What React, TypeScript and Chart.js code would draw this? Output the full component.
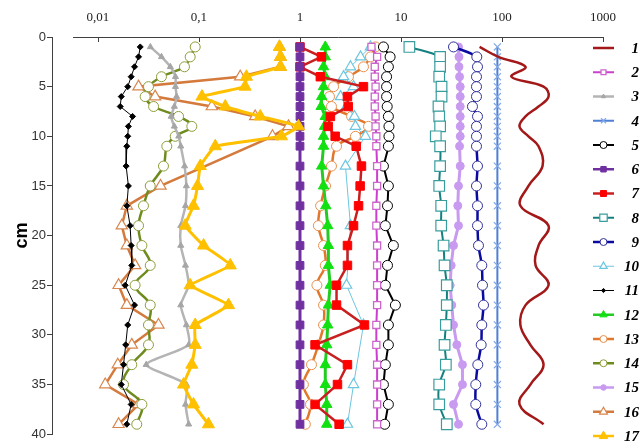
import React, { useEffect, useRef } from "react";
import { Chart, registerables } from "chart.js";
import { drawPoint } from "chart.js/helpers";

Chart.register(...registerables);

// depth (cm) levels
const depths = [1, 2, 3, 4, 5, 6, 7, 8, 9, 10, 11, 13, 15, 17, 19, 21, 23, 25, 27, 29, 31, 33, 35, 37, 39];
const depths10 = [1, 2, 3, 4, 5, 6, 7, 8, 9, 10, 13, 19, 25, 29, 35, 39];
const depths16 = [1, 2, 3, 4, 5, 6, 7, 8, 9, 10, 15, 17, 19, 21, 23, 25, 27, 29, 31, 33, 35, 37, 39];

const xTickValues = [0.01, 0.1, 1, 10, 100, 1000];
const yTickValues = [0, 5, 10, 15, 20, 25, 30, 35, 40];
const legendLabels = ["1", "2", "3", "4", "5", "6", "7", "8", "9", "10", "11", "12", "13", "14", "15", "16", "17"];

const s1 = [60, 92, 171, 124, 258, 289, 230, 171, 149, 183, 230, 252, 183, 152, 289, 230, 215, 289, 171, 152, 191, 258, 191, 149, 258];
const s2 = [5.1, 5.8, 5.5, 5.5, 5.6, 5.5, 5.5, 5.6, 5.6, 5.7, 5.7, 5.8, 5.8, 5.7, 5.7, 5.8, 5.8, 5.8, 5.8, 5.7, 5.7, 5.8, 5.8, 5.8, 5.8];
const s3 = [0.033, 0.0425, 0.052, 0.0585, 0.0585, 0.06, 0.057, 0.053, 0.057, 0.063, 0.066, 0.072, 0.075, 0.0735, 0.066, 0.066, 0.0735, 0.079, 0.066, 0.075, 0.079, 0.03, 0.075, 0.0735, 0.079];
const s4 = [90, 90, 90, 90, 90, 90, 90, 90, 90, 90, 90, 90, 90, 90, 90, 90, 90, 90, 90, 90, 90, 90, 90, 90, 90];
const s5 = [6.7, 7.8, 7.5, 7.2, 7.2, 7.2, 7.3, 7.5, 7.6, 7.6, 7.5, 6.7, 7.5, 7.35, 7.0, 8.4, 7.35, 7.0, 8.8, 7.5, 7.5, 7.0, 6.7, 7.5, 6.9];
const s6 = [1, 1, 1, 1, 1, 1, 1, 1, 1, 1, 1, 1, 1, 1, 1, 1, 1, 1, 1, 1, 1, 1, 1, 1, 1];
const s7 = [1.0, 1.63, 1.0, 1.59, 4.25, 2.95, 3.0, 2.0, 1.9, 2.23, 3.6, 4.06, 3.94, 3.8, 3.39, 2.95, 2.95, 2.3, 2.3, 4.35, 1.41, 2.95, 2.35, 1.41, 2.44];
const s8 = [12.1, 24.4, 24.4, 23.9, 25.2, 25.2, 23.5, 23.9, 24.4, 22.1, 24.4, 24.4, 23.9, 25.0, 25.0, 26.4, 27.0, 28.4, 28.4, 27.8, 27.0, 27.8, 23.9, 23.9, 28.4];
const s9 = [33.1, 56.3, 57.2, 55.9, 55.9, 55.9, 51.0, 57.2, 55.9, 55.9, 55.9, 57.2, 55.9, 57.2, 57.2, 58.5, 63.1, 64.1, 65.6, 63.1, 62.2, 57.6, 55.0, 55.0, 63.1];
const s10 = [4.99, 3.97, 3.16, 2.7, 3.39, 2.52, 2.89, 3.46, 3.54, 4.45, 2.82, 3.16, 2.89, 4.25, 3.39, 2.95];
const s11 = [0.0262, 0.0252, 0.023, 0.0213, 0.0197, 0.017, 0.0166, 0.022, 0.02, 0.0197, 0.0193, 0.019, 0.02, 0.0193, 0.0208, 0.0213, 0.0216, 0.0186, 0.023, 0.0197, 0.0188, 0.0179, 0.017, 0.0213, 0.0193];
const s12 = [1.78, 1.78, 1.71, 1.78, 1.71, 1.64, 1.62, 1.78, 1.75, 1.71, 1.71, 1.64, 1.71, 1.8, 1.88, 1.91, 1.91, 1.99, 1.91, 1.88, 1.84, 1.78, 1.78, 1.84, 1.84];
const s13 = [5.59, 4.99, 4.25, 3.02, 2.15, 1.96, 2.05, 3.24, 4.77, 3.54, 2.3, 2.05, 1.79, 1.6, 1.52, 1.71, 1.78, 1.47, 1.71, 1.71, 1.52, 1.3, 1.08, 1.27, 1.13];
const s14 = [0.0917, 0.0818, 0.0718, 0.0425, 0.0316, 0.0293, 0.0355, 0.0627, 0.0849, 0.0581, 0.048, 0.0445, 0.0329, 0.0282, 0.0252, 0.0272, 0.0329, 0.0233, 0.0329, 0.0316, 0.0316, 0.0216, 0.0179, 0.0272, 0.0242];
const s15 = [37.1, 37.5, 37.5, 38, 38.6, 38.6, 38.6, 38.6, 38.6, 38.6, 38, 38.6, 37.1, 36.5, 37.1, 33.1, 31.4, 30.7, 31.8, 33.1, 35.7, 40.6, 40.6, 33.1, 37.1];
const s16 = [0.627, 0.641, 0.641, 0.256, 0.0252, 0.0368, 0.134, 0.36, 0.769, 0.534, 0.0416, 0.0193, 0.0172, 0.0193, 0.0233, 0.016, 0.0193, 0.0397, 0.0216, 0.0157, 0.0118, 0.0252, 0.016];
const s17 = [0.627, 0.641, 0.641, 0.295, 0.286, 0.107, 0.182, 0.404, 0.966, 0.656, 0.145, 0.103, 0.0967, 0.0882, 0.073, 0.111, 0.204, 0.0818, 0.196, 0.0917, 0.0917, 0.0849, 0.0703, 0.0882, 0.124];

const axisStart = 0.00566;

type Style = {
  line: string; point: string; fill: string; style: any; r: number; lw: number; tension: number; pbw: number; order: number;
};

const styles: Style[] = [
  { line: "#a31818", point: "#a31818", fill: "#a31818", style: "circle", r: 0, lw: 2.5, tension: 0.4, pbw: 1, order: 0 },
  { line: "#cc3fcc", point: "#cc66cc", fill: "#ffffff", style: "rect", r: 5, lw: 2, tension: 0, pbw: 1.3, order: 0 },
  { line: "#b4b4b4", point: "#a6a6a6", fill: "#a6a6a6", style: "triangle", r: 3.5, lw: 2.5, tension: 0.2, pbw: 1, order: 0 },
  { line: "#4f7fd6", point: "#80a8e6", fill: "#80a8e6", style: "crossRot", r: 5, lw: 2, tension: 0, pbw: 1.2, order: 0 },
  { line: "#000000", point: "#000000", fill: "#ffffff", style: "circle", r: 5, lw: 2, tension: 0, pbw: 1, order: 0 },
  { line: "#7030a0", point: "#7030a0", fill: "#7030a0", style: "rect", r: 5.5, lw: 3, tension: 0, pbw: 1, order: 0 },
  { line: "#c82020", point: "#ff0000", fill: "#ff0000", style: "rect", r: 6, lw: 2.5, tension: 0, pbw: 1, order: 0 },
  { line: "#168080", point: "#3a9d9d", fill: "#ffffff", style: "rect", r: 7.5, lw: 2, tension: 0.3, pbw: 1.2, order: 0 },
  { line: "#0a0aa0", point: "#30309a", fill: "#ffffff", style: "circle", r: 5, lw: 2.5, tension: 0.3, pbw: 1, order: 0 },
  { line: "#6cc6e0", point: "#6cc6e0", fill: "#ffffff", style: "triangle", r: 6, lw: 1, tension: 0, pbw: 1.2, order: 0 },
  { line: "#000000", point: "#000000", fill: "#000000", style: "rectRot", r: 3, lw: 1, tension: 0, pbw: 1, order: 0 },
  { line: "#22cc22", point: "#11e011", fill: "#11e011", style: "triangle", r: 6, lw: 3, tension: 0, pbw: 1, order: 0 },
  { line: "#e2772b", point: "#e89050", fill: "#ffffff", style: "circle", r: 5, lw: 2.5, tension: 0.4, pbw: 1, order: 0 },
  { line: "#6e8b1e", point: "#8d9d3a", fill: "#ffffff", style: "circle", r: 5, lw: 2.5, tension: 0.4, pbw: 1, order: 0 },
  { line: "#c89af0", point: "#c89af0", fill: "#c89af0", style: "circle", r: 4, lw: 3, tension: 0, pbw: 1, order: 0 },
  { line: "#d47a3c", point: "#d8864e", fill: "#ffffff", style: "triangle", r: 6.5, lw: 2.5, tension: 0, pbw: 1.2, order: 1 },
  { line: "#ffc000", point: "#ffc000", fill: "#ffc000", style: "triangle", r: 7, lw: 3, tension: 0.1, pbw: 1, order: -1 },
];

const seriesValues = [s1, s2, s3, s4, s5, s6, s7, s8, s9, s10, s11, s12, s13, s14, s15, s16, s17];
const seriesDepths = [depths, depths, depths, depths, depths, depths, depths, depths, depths, depths10, depths, depths, depths, depths, depths, depths16, depths];

const fmt = (v: number) => String(v).replace(".", ",");

const overlayPlugin = {
  id: "overlay",
  afterDraw(chart: any) {
    const ctx = chart.ctx;
    const xs = chart.scales.x;
    const top = chart.chartArea.top;
    ctx.save();
    ctx.strokeStyle = "#404040";
    ctx.lineWidth = 1;
    ctx.beginPath();
    const xa = xs.getPixelForValue(axisStart);
    const xb = xs.getPixelForValue(1000);
    ctx.moveTo(xa, top + 0.5);
    ctx.lineTo(xb + 0.5, top + 0.5);
    xTickValues.forEach((v) => {
      const px = Math.round(xs.getPixelForValue(v)) + 0.5;
      ctx.moveTo(px, top);
      ctx.lineTo(px, top + 5);
    });
    ctx.stroke();

    // legend
    const legendTop = 48;
    const step = 24.25;
    chart.data.datasets.forEach((ds: any, i: number) => {
      const st = styles[i];
      const y = legendTop + i * step;
      ctx.strokeStyle = st.line;
      ctx.lineWidth = Math.min(st.lw, 2.5);
      ctx.beginPath();
      ctx.moveTo(593, y);
      ctx.lineTo(614, y);
      ctx.stroke();
      if (st.r > 0) {
        ctx.fillStyle = st.fill;
        ctx.strokeStyle = st.point;
        ctx.lineWidth = st.pbw;
        drawPoint(ctx, { pointStyle: st.style, radius: st.r * 0.7, rotation: 0, borderWidth: st.pbw }, 603.5, y);
      }
      ctx.fillStyle = "#000";
      ctx.font = "italic bold 15px 'Liberation Serif'";
      ctx.textAlign = "right";
      ctx.textBaseline = "middle";
      ctx.fillText(legendLabels[i], 639, y + 1);
    });
    ctx.restore();
  },
};

export default function App() {
  const ref = useRef<HTMLCanvasElement | null>(null);
  useEffect(() => {
    document.body.style.margin = "0";
    const canvas = ref.current!;
    const datasets = seriesValues.map((vals, i) => {
      const st = styles[i];
      const d = seriesDepths[i];
      return {
        label: legendLabels[i],
        data: vals.map((v, j) => ({ x: v, y: d[j] })),
        showLine: true,
        borderColor: st.line,
        backgroundColor: st.line,
        borderWidth: st.lw,
        tension: st.tension,
        pointStyle: st.style,
        pointRadius: st.r,
        pointBorderColor: st.point,
        pointBackgroundColor: st.fill,
        pointBorderWidth: st.pbw,
        order: st.order,
        clip: 8,
      };
    });
    const chart = new Chart(canvas, {
      type: "scatter",
      data: { datasets },
      plugins: [overlayPlugin],
      options: {
        animation: false,
        responsive: false,
        devicePixelRatio: 1,
        layout: { padding: { left: 0, right: 40, top: 0, bottom: 4 } },
        plugins: { legend: { display: false }, tooltip: { enabled: false } },
        scales: {
          x: {
            type: "logarithmic",
            position: "top",
            min: 0.003504,
            max: 1000,
            afterFit: (s: any) => { s.height = 37; },
            afterBuildTicks: (s: any) => { s.ticks = xTickValues.map((v) => ({ value: v })); },
            grid: { display: false, drawTicks: false },
            border: { display: false },
            ticks: {
              callback: (v: any) => fmt(Number(v)),
              font: { family: "'Liberation Serif'", size: 13 },
              color: "#222",
              padding: 12,
              maxRotation: 0,
              autoSkip: false,
            },
          },
          y: {
            type: "linear",
            reverse: true,
            min: 0,
            max: 40,
            afterFit: (s: any) => { s.width = 52; },
            afterBuildTicks: (s: any) => { s.ticks = yTickValues.map((v) => ({ value: v })); },
            grid: { drawOnChartArea: false, drawTicks: true, tickLength: 5, color: "#404040" },
            border: { display: true, color: "#404040" },
            ticks: {
              font: { family: "'Liberation Sans'", size: 13 },
              color: "#333",
              padding: 1,
            },
            title: {
              display: true,
              text: "cm",
              font: { family: "'Liberation Sans'", size: 18, weight: "bold" },
              color: "#000",
              padding: { top: 11, bottom: 0 },
            },
          },
        },
      } as any,
    });
    return () => chart.destroy();
  }, []);
  return (
    <div style={{ width: 643, height: 443 }}>
      <canvas ref={ref} width={643} height={443} style={{ display: "block" }} />
    </div>
  );
}
